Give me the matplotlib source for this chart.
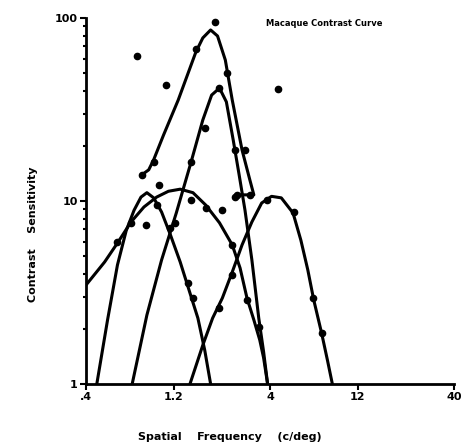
import matplotlib.pyplot as plt
import numpy as np

# fitted curves (spatial frequency c/deg, contrast sensitivity)
envFreq = [0.805, 0.877, 0.933, 1.055, 1.268, 1.582, 1.725, 1.902, 2.074, 2.286, 2.493, 2.818, 3.109, 3.266, 2.651]
envSens = [13.9, 14.8, 16.8, 22.9, 35.6, 65.2, 77.8, 86.0, 79.7, 58.9, 35.6, 19.0, 13.0, 10.8, 10.8]

sharpFreq = [0.713, 0.857, 1.030, 1.238, 1.489, 1.725, 1.926, 2.125, 2.316, 2.524, 2.717, 2.924, 3.187, 3.473, 3.690, 3.880]
sharpSens = [1.0, 2.38, 4.76, 8.6, 16.3, 27.7, 37.9, 41.4, 34.8, 21.5, 13.9, 8.9, 4.76, 2.29, 1.50, 1.0]

broadFreq = [0.400, 0.505, 0.593, 0.703, 0.826, 0.968, 1.122, 1.300, 1.525, 1.789, 2.125, 2.493, 2.750, 2.997, 3.266, 3.516, 3.690, 3.880]
broadSens = [3.47, 4.64, 5.89, 7.68, 9.27, 10.5, 11.3, 11.6, 11.1, 9.5, 7.6, 5.75, 4.30, 2.95, 2.24, 1.74, 1.39, 1.0]

lowFreq = [0.458, 0.524, 0.593, 0.662, 0.730, 0.796, 0.857, 0.933, 1.030, 1.151, 1.300, 1.469, 1.622, 1.767, 1.902]
lowSens = [1.0, 2.24, 4.47, 6.9, 8.9, 10.5, 11.1, 10.4, 8.7, 6.52, 4.64, 3.14, 2.29, 1.53, 1.0]

highFreq = [1.469, 1.725, 1.950, 2.203, 2.493, 2.818, 3.187, 3.603, 4.075, 4.605, 5.333, 5.883, 6.415, 6.909, 7.621, 8.20, 8.721]
highSens = [1.0, 1.63, 2.29, 2.95, 4.09, 5.75, 7.68, 9.75, 10.6, 10.4, 8.6, 6.1, 4.20, 2.88, 1.90, 1.35, 1.0]

# measured points
dotFreq = [0.757, 1.082, 0.805, 0.933, 0.993, 1.582, 1.999, 2.344, 1.767, 2.125, 1.489, 1.489, 1.789, 2.203,
           2.586, 4.439, 2.586, 2.924, 2.651, 3.109, 5.402, 0.593, 0.703, 0.846, 0.968, 1.151, 1.223, 1.435,
           1.525, 2.493, 2.493, 2.997, 3.473, 2.125, 3.832, 6.826, 7.621]
dotSens = [62.0, 43.0, 13.9, 16.3, 12.2, 67.7, 95.1, 50.1, 25.0, 41.4, 16.3, 10.1, 9.2, 8.9,
           10.5, 40.9, 19.0, 19.0, 10.8, 10.8, 8.7, 6.0, 7.6, 7.4, 9.5, 7.1, 7.6, 3.57,
           2.95, 5.75, 3.94, 2.88, 2.05, 2.60, 10.1, 2.95, 1.90]

xTicks = [0.4, 1.2, 4, 12, 40]
xTickLabels = ['.4', '1.2', '4', '12', '40']
yTicks = [1, 10, 100]
yTickLabels = ['1', '10', '100']

fig = plt.figure(figsize=(4.66, 4.48), dpi=100)
ax = fig.add_axes([0.1845, 0.1429, 0.79, 0.817])

for fx, sy in [(envFreq, envSens), (sharpFreq, sharpSens), (broadFreq, broadSens),
               (lowFreq, lowSens), (highFreq, highSens)]:
    ax.plot(fx, sy, color='black', linewidth=2.2, solid_capstyle='round', solid_joinstyle='round')

ax.plot(dotFreq, dotSens, linestyle='none', marker='o', markersize=4.5, color='black')

ax.set_xscale('log')
ax.set_yscale('log')
ax.set_xlim(0.4, 40)
ax.set_ylim(1, 100)

ax.spines['top'].set_visible(False)
ax.spines['right'].set_visible(False)
ax.spines['left'].set_linewidth(2)
ax.spines['bottom'].set_linewidth(2)

ax.set_xticks(xTicks)
ax.set_xticklabels(xTickLabels, fontsize=8, fontweight='bold')
ax.set_yticks(yTicks)
ax.set_yticklabels(yTickLabels, fontsize=8, fontweight='bold')
ax.xaxis.set_minor_locator(plt.NullLocator())
ax.tick_params(axis='both', which='major', length=4, width=1.5, pad=2)
ax.tick_params(axis='y', which='minor', length=2, width=1.5)
ax.yaxis.set_minor_formatter(plt.NullFormatter())

ax.set_xlabel('Spatial    Frequency    (c/deg)', fontsize=8, fontweight='bold')
ax.xaxis.set_label_coords(0.39, -0.13)
ax.set_ylabel('Contrast    Sensitivity', fontsize=8, fontweight='bold')
ax.yaxis.set_label_coords(-0.13, 0.41)

ax.text(0.49, 0.985, 'Macaque Contrast Curve', transform=ax.transAxes, fontsize=6, fontweight='bold', va='center')

fig.savefig('out.png', dpi=100)
